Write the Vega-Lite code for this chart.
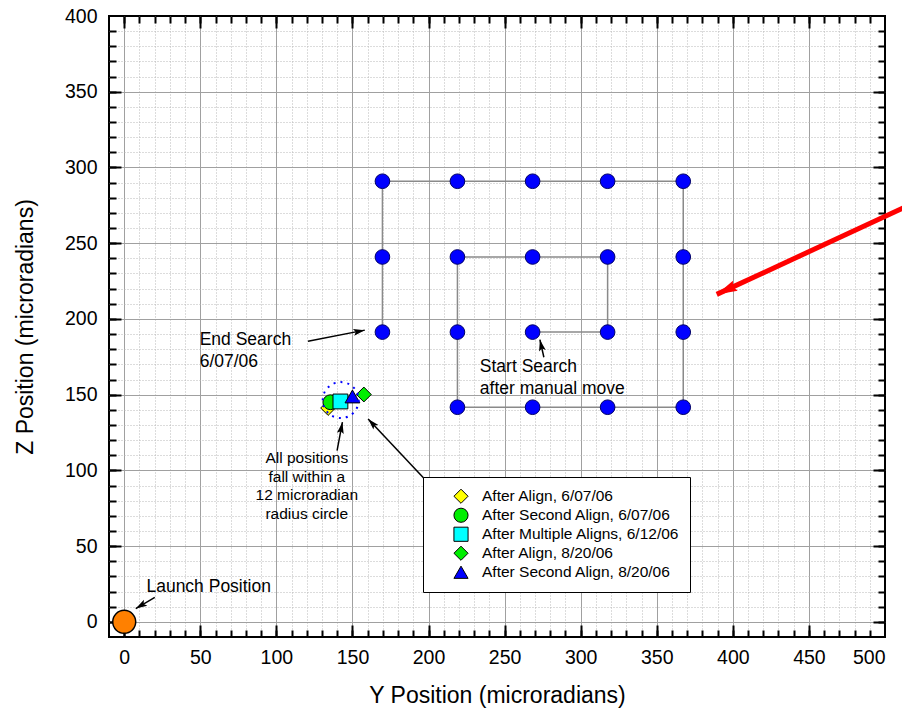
{
  "$schema": "https://vega.github.io/schema/vega-lite/v6.json",
  "width": 776,
  "height": 621,
  "autosize": {"type": "none"},
  "padding": {"left": 109, "top": 16, "right": 17, "bottom": 72},
  "background": "white",
  "config": {
    "font": "Liberation Sans",
    "view": {"stroke": "black", "strokeWidth": 2},
    "axis": {"domain": false, "tickColor": "black", "tickWidth": 2, "labelColor": "black", "titleColor": "black", "titleFontWeight": "normal"},
    "legend": {"symbolStrokeColor": "black", "symbolStrokeWidth": 1}
  },
  "datasets": {
    "path": [
      {"x": 268.4, "y": 191.3, "o": 1},
      {"x": 317.7, "y": 191.3, "o": 2},
      {"x": 317.7, "y": 240.9, "o": 3},
      {"x": 268.4, "y": 240.9, "o": 4},
      {"x": 219.0, "y": 240.9, "o": 5},
      {"x": 219.0, "y": 191.3, "o": 6},
      {"x": 219.0, "y": 141.7, "o": 7},
      {"x": 268.4, "y": 141.7, "o": 8},
      {"x": 317.7, "y": 141.7, "o": 9},
      {"x": 367.4, "y": 141.7, "o": 10},
      {"x": 367.4, "y": 191.3, "o": 11},
      {"x": 367.4, "y": 240.9, "o": 12},
      {"x": 367.4, "y": 290.9, "o": 13},
      {"x": 317.7, "y": 290.9, "o": 14},
      {"x": 268.4, "y": 290.9, "o": 15},
      {"x": 219.0, "y": 290.9, "o": 16},
      {"x": 169.7, "y": 290.9, "o": 17},
      {"x": 169.7, "y": 240.9, "o": 18},
      {"x": 169.7, "y": 191.3, "o": 19}
    ],
    "cluster": [
      {"x": 134.0, "y": 141.2, "series": "After Align, 6/07/06"},
      {"x": 135.5, "y": 145.0, "series": "After Second Align, 6/07/06"},
      {"x": 142.1, "y": 145.5, "series": "After Multiple Aligns, 6/12/06"},
      {"x": 157.5, "y": 150.1, "series": "After Align, 8/20/06"},
      {"x": 150.0, "y": 148.8, "series": "After Second Align, 8/20/06"}
    ],
    "launch": [{"x": 0, "y": 0}],
    "ring": [{"x": 142.3, "y": 146.4}],
    "arrows": [
      {"x": 120.8, "y": 185.3, "x2": 158.1, "y2": 192.6},
      {"x": 275.8, "y": 174.7, "x2": 273.2, "y2": 186.3},
      {"x": 139.9, "y": 113.1, "x2": 143.4, "y2": 131.8},
      {"x": 197.4, "y": 94.3, "x2": 160.3, "y2": 134.0},
      {"x": 20.1, "y": 16.1, "x2": 7.6, "y2": 8.8}
    ],
    "redarrow": [{"x": 525.0, "y": 279.3, "x2": 389.4, "y2": 216.2}],
    "notes": [
      {"x": 49.6, "y": 182.5, "label": "End Search\n6/07/06"},
      {"x": 233.7, "y": 164.8, "label": "Start Search\nafter manual move"},
      {"x": 14.6, "y": 19.4, "label": "Launch Position"}
    ],
    "notes2": [
      {"x": 120.0, "y": 104.7, "label": "All positions\nfall within a\n12 microradian\nradius circle"}
    ]
  },
  "resolve": {"axis": {"x": "independent", "y": "independent"}},
  "layer": [
    {
      "data": {"name": "path"},
      "mark": {"type": "line", "color": "#8a8a8a", "strokeWidth": 1.5},
      "encoding": {
        "x": {"field": "x", "type": "quantitative", "scale": {"domain": [-10, 500], "nice": false, "zero": false},
          "axis": {"orient": "bottom", "values": [0,10,20,30,40,50,60,70,80,90,100,110,120,130,140,150,160,170,180,190,200,210,220,230,240,250,260,270,280,290,300,310,320,330,340,350,360,370,380,390,400,410,420,430,440,450,460,470,480,490],
            "grid": true, "gridColor": "#b8b8b8", "gridDash": [1, 2], "gridWidth": 1, "tickSize": -7, "labels": false, "title": null}},
        "y": {"field": "y", "type": "quantitative", "scale": {"domain": [-10, 400], "nice": false, "zero": false},
          "axis": {"orient": "left", "values": [0,10,20,30,40,50,60,70,80,90,100,110,120,130,140,150,160,170,180,190,200,210,220,230,240,250,260,270,280,290,300,310,320,330,340,350,360,370,380,390],
            "grid": true, "gridColor": "#b8b8b8", "gridDash": [1, 2], "gridWidth": 1, "tickSize": -7, "labels": false, "title": null}},
        "order": {"field": "o", "type": "quantitative"}
      }
    },
    {
      "data": {"name": "path"},
      "mark": {"type": "point", "shape": "circle", "filled": true, "fill": "#0000ff", "stroke": "#000066", "strokeWidth": 1, "size": 215, "opacity": 1},
      "encoding": {
        "x": {"field": "x", "type": "quantitative", "scale": {"domain": [-10, 500], "nice": false, "zero": false},
          "axis": {"orient": "bottom", "values": [0,50,100,150,200,250,300,350,400,450], "grid": true, "gridColor": "#a0a0a0", "gridWidth": 1, "tickSize": -12, "labels": false, "title": null}},
        "y": {"field": "y", "type": "quantitative", "scale": {"domain": [-10, 400], "nice": false, "zero": false},
          "axis": {"orient": "left", "values": [0,50,100,150,200,250,300,350], "grid": true, "gridColor": "#a0a0a0", "gridWidth": 1, "tickSize": -12, "labels": false, "title": null}}
      }
    },
    {
      "data": {"name": "cluster"},
      "mark": {"type": "point", "filled": true, "stroke": "black", "strokeWidth": 1, "size": 220, "opacity": 1},
      "encoding": {
        "x": {"field": "x", "type": "quantitative", "scale": {"domain": [-10, 500], "nice": false, "zero": false},
          "axis": {"orient": "bottom", "values": [0,50,100,150,200,250,300,350,400,450,500], "grid": false, "ticks": false, "labelFontSize": 19.5, "labelPadding": 11,
            "title": "Y Position (microradians)", "titleFontSize": 23, "titleX": 388, "titleY": 65.7, "titleBaseline": "alphabetic", "titleAlign": "center"}},
        "y": {"field": "y", "type": "quantitative", "scale": {"domain": [-10, 400], "nice": false, "zero": false},
          "axis": {"orient": "left", "values": [0,50,100,150,200,250,300,350,400], "grid": false, "ticks": false, "labelFontSize": 19.5, "labelPadding": 12,
            "title": "Z Position (microradians)", "titleFontSize": 23, "titleX": -77, "titleY": 310.5, "titleAngle": 270, "titleBaseline": "alphabetic", "titleAlign": "center"}},
        "color": {"field": "series", "type": "nominal",
          "scale": {"domain": ["After Align, 6/07/06", "After Second Align, 6/07/06", "After Multiple Aligns, 6/12/06", "After Align, 8/20/06", "After Second Align, 8/20/06"],
            "range": ["#ffff00", "#00ee00", "#00ffff", "#00ee00", "#0000ff"]},
          "legend": {"orient": "none", "legendX": 314, "legendY": 461, "title": null, "strokeColor": "black", "fillColor": "white", "padding": 10,
            "labelFontSize": 15.5, "labelColor": "black", "symbolSize": 200, "symbolOffset": 20, "labelOffset": 13, "rowPadding": 0, "clipHeight": 18.5, "symbolStrokeColor": "black", "labelLimit": 400}},
        "shape": {"field": "series", "type": "nominal",
          "scale": {"domain": ["After Align, 6/07/06", "After Second Align, 6/07/06", "After Multiple Aligns, 6/12/06", "After Align, 8/20/06", "After Second Align, 8/20/06"],
            "range": ["diamond", "circle", "square", "diamond", "triangle-up"]}}
      }
    },
    {
      "data": {"name": "launch"},
      "mark": {"type": "point", "shape": "circle", "filled": true, "fill": "#ff8000", "stroke": "black", "strokeWidth": 1.5, "size": 529, "opacity": 1},
      "encoding": {
        "x": {"field": "x", "type": "quantitative", "scale": {"domain": [-10, 500], "nice": false, "zero": false},
          "axis": {"orient": "top", "values": [0,10,20,30,40,50,60,70,80,90,100,110,120,130,140,150,160,170,180,190,200,210,220,230,240,250,260,270,280,290,300,310,320,330,340,350,360,370,380,390,400,410,420,430,440,450,460,470,480,490],
            "grid": false, "tickSize": -7, "labels": false, "title": null}},
        "y": {"field": "y", "type": "quantitative", "scale": {"domain": [-10, 400], "nice": false, "zero": false},
          "axis": {"orient": "right", "values": [0,10,20,30,40,50,60,70,80,90,100,110,120,130,140,150,160,170,180,190,200,210,220,230,240,250,260,270,280,290,300,310,320,330,340,350,360,370,380,390],
            "grid": false, "tickSize": -7, "labels": false, "title": null}}
      }
    },
    {
      "data": {"name": "ring"},
      "mark": {"type": "point", "shape": "circle", "filled": false, "stroke": "#0000ff", "strokeWidth": 2, "strokeDash": [2, 5], "size": 1296, "opacity": 1},
      "encoding": {
        "x": {"field": "x", "type": "quantitative", "scale": {"domain": [-10, 500], "nice": false, "zero": false},
          "axis": {"orient": "top", "values": [0,50,100,150,200,250,300,350,400,450], "grid": false, "tickSize": -12, "labels": false, "title": null}},
        "y": {"field": "y", "type": "quantitative", "scale": {"domain": [-10, 400], "nice": false, "zero": false},
          "axis": {"orient": "right", "values": [0,50,100,150,200,250,300,350], "grid": false, "tickSize": -12, "labels": false, "title": null}}
      }
    },
    {
      "data": {"name": "arrows"},
      "mark": {"type": "rule", "color": "black", "strokeWidth": 1.5},
      "encoding": {
        "x": {"field": "x", "type": "quantitative", "scale": {"domain": [-10, 500], "nice": false, "zero": false}, "axis": null},
        "y": {"field": "y", "type": "quantitative", "scale": {"domain": [-10, 400], "nice": false, "zero": false}, "axis": null},
        "x2": {"field": "x2"},
        "y2": {"field": "y2"}
      }
    },
    {
      "data": {"name": "arrows"},
      "transform": [{"calculate": "atan2(datum.x2 - datum.x, datum.y2 - datum.y) * 180 / PI", "as": "ang"}],
      "mark": {"type": "point", "shape": "M0,0L-0.6,2L0,1.6L0.6,2Z", "filled": true, "fill": "black", "strokeWidth": 0, "size": 130, "opacity": 1},
      "encoding": {
        "x": {"field": "x2", "type": "quantitative", "scale": {"domain": [-10, 500], "nice": false, "zero": false}, "axis": null},
        "y": {"field": "y2", "type": "quantitative", "scale": {"domain": [-10, 400], "nice": false, "zero": false}, "axis": null},
        "angle": {"field": "ang", "type": "quantitative", "scale": null}
      }
    },
    {
      "data": {"name": "redarrow"},
      "mark": {"type": "rule", "color": "#ff0000", "strokeWidth": 5, "clip": false},
      "encoding": {
        "x": {"field": "x", "type": "quantitative", "scale": {"domain": [-10, 500], "nice": false, "zero": false}, "axis": null},
        "y": {"field": "y", "type": "quantitative", "scale": {"domain": [-10, 400], "nice": false, "zero": false}, "axis": null},
        "x2": {"field": "x2"},
        "y2": {"field": "y2"}
      }
    },
    {
      "data": {"name": "redarrow"},
      "transform": [{"calculate": "atan2(datum.x2 - datum.x, datum.y2 - datum.y) * 180 / PI", "as": "ang"}],
      "mark": {"type": "point", "shape": "M0,0L-0.55,2L0,1.75L0.55,2Z", "filled": true, "fill": "#ff0000", "strokeWidth": 0, "size": 420, "opacity": 1},
      "encoding": {
        "x": {"field": "x2", "type": "quantitative", "scale": {"domain": [-10, 500], "nice": false, "zero": false}, "axis": null},
        "y": {"field": "y2", "type": "quantitative", "scale": {"domain": [-10, 400], "nice": false, "zero": false}, "axis": null},
        "angle": {"field": "ang", "type": "quantitative", "scale": null}
      }
    },
    {
      "data": {"name": "notes"},
      "mark": {"type": "text", "align": "left", "baseline": "alphabetic", "fontSize": 17.5, "lineHeight": 22, "lineBreak": "\n", "color": "black"},
      "encoding": {
        "x": {"field": "x", "type": "quantitative", "scale": {"domain": [-10, 500], "nice": false, "zero": false}, "axis": null},
        "y": {"field": "y", "type": "quantitative", "scale": {"domain": [-10, 400], "nice": false, "zero": false}, "axis": null},
        "text": {"field": "label"}
      }
    },
    {
      "data": {"name": "notes2"},
      "mark": {"type": "text", "align": "center", "baseline": "alphabetic", "fontSize": 15.5, "lineHeight": 18.6, "lineBreak": "\n", "color": "black"},
      "encoding": {
        "x": {"field": "x", "type": "quantitative", "scale": {"domain": [-10, 500], "nice": false, "zero": false}, "axis": null},
        "y": {"field": "y", "type": "quantitative", "scale": {"domain": [-10, 400], "nice": false, "zero": false}, "axis": null},
        "text": {"field": "label"}
      }
    }
  ]
}
